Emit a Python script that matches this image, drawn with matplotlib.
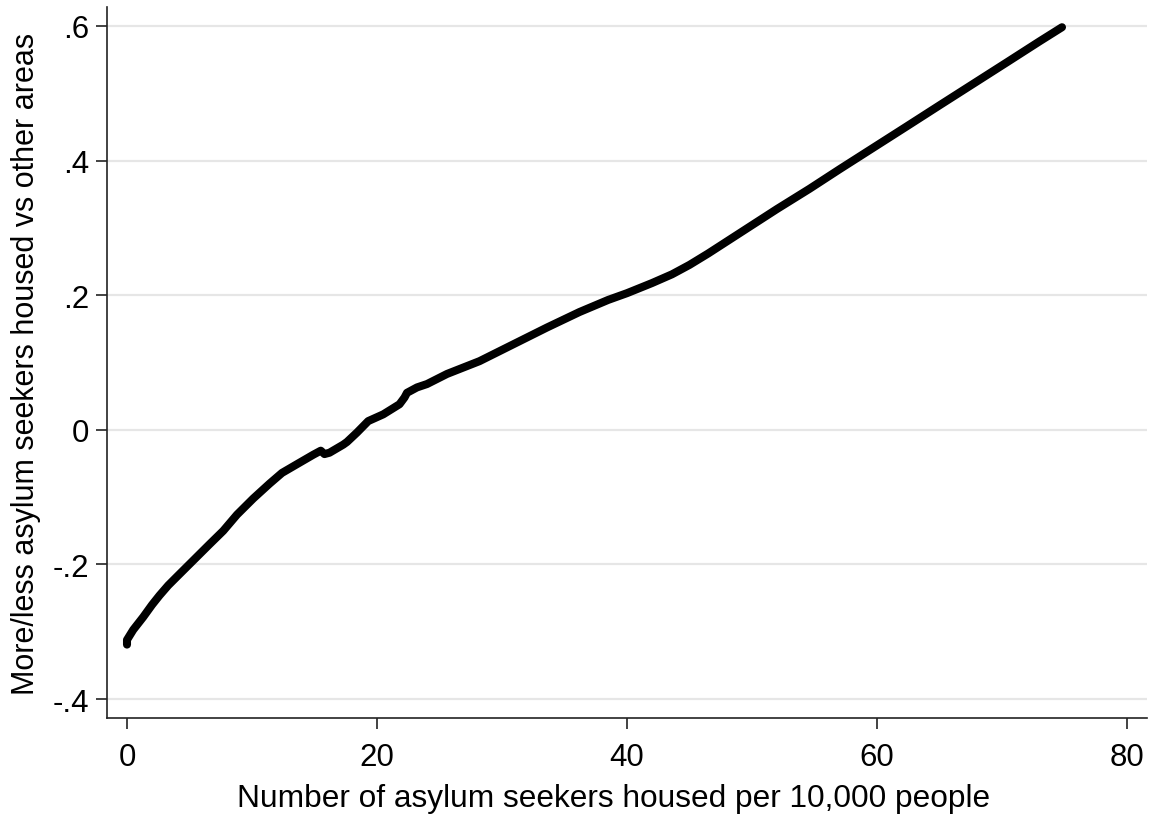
import matplotlib
matplotlib.use("Agg")
import matplotlib.pyplot as plt
import numpy as np

plt.rcParams["font.family"] = ["Liberation Sans", "DejaVu Sans"]

# Smoothed relationship: asylum seekers housed per 10,000 people vs. attitude gap
x_vals = [0.0, 0.0, 0.5, 1.3, 2.0, 2.6, 3.3, 4.0, 5.3, 6.6, 7.7, 8.8, 10.1,
          11.4, 12.4, 13.6, 14.9, 15.5, 15.8, 16.2, 17.3, 17.6, 18.4, 19.3,
          20.5, 21.8, 22.2, 22.4, 23.2, 24.0, 25.6, 28.2, 30.9, 33.6, 36.2,
          38.5, 40.0, 42.0, 43.6, 45.0, 46.5, 48.0, 50.0, 52.0, 54.6, 57.0,
          59.7, 62.4, 65.0, 67.7, 70.4, 73.0, 74.8]
y_vals = [-0.319, -0.312, -0.297, -0.278, -0.260, -0.246, -0.231, -0.218,
          -0.194, -0.170, -0.150, -0.126, -0.102, -0.080, -0.064, -0.051,
          -0.037, -0.031, -0.036, -0.034, -0.022, -0.018, -0.004, 0.013,
          0.023, 0.038, 0.048, 0.055, 0.063, 0.068, 0.083, 0.102, 0.127,
          0.152, 0.175, 0.193, 0.203, 0.218, 0.231, 0.245, 0.262, 0.280,
          0.304, 0.328, 0.358, 0.387, 0.419, 0.451, 0.482, 0.514, 0.546,
          0.577, 0.598]

x_ticks = [0, 20, 40, 60, 80]
y_ticks = [-0.4, -0.2, 0.0, 0.2, 0.4, 0.6]
y_tick_labels = ["-.4", "-.2", "0", ".2", ".4", ".6"]

fig = plt.figure(figsize=(11.53, 8.2), dpi=100)
ax = fig.add_axes([0.0928, 0.1232, 0.902, 0.867])

ax.plot(x_vals, y_vals, color="black", linewidth=5.8,
        solid_capstyle="round", solid_joinstyle="round", zorder=3)

ax.set_xlim(-1.6, 81.6)
ax.set_ylim(-0.428, 0.628)
ax.set_xticks(x_ticks)
ax.set_xticklabels([str(t) for t in x_ticks])
ax.set_yticks(y_ticks)
ax.set_yticklabels(y_tick_labels)

ax.grid(axis="y", color="#e6e6e6", linewidth=1.6, zorder=0)
ax.grid(axis="x", visible=False)

for side in ("top", "right"):
    ax.spines[side].set_visible(False)
for side in ("left", "bottom"):
    ax.spines[side].set_color("#222222")
    ax.spines[side].set_linewidth(1.2)

ax.tick_params(axis="both", direction="out", length=8, width=1.2,
               color="#222222", labelsize=22.5, labelcolor="black")
ax.tick_params(axis="x", pad=9)
ax.tick_params(axis="y", pad=5)

ax.set_xlabel("Number of asylum seekers housed per 10,000 people",
              fontsize=22.8)
ax.xaxis.set_label_coords(0.487, -0.091)
ax.set_ylabel("More/less asylum seekers housed vs other areas",
              fontsize=22.0, labelpad=8)

fig.savefig("out.png", dpi=100, facecolor="white")
